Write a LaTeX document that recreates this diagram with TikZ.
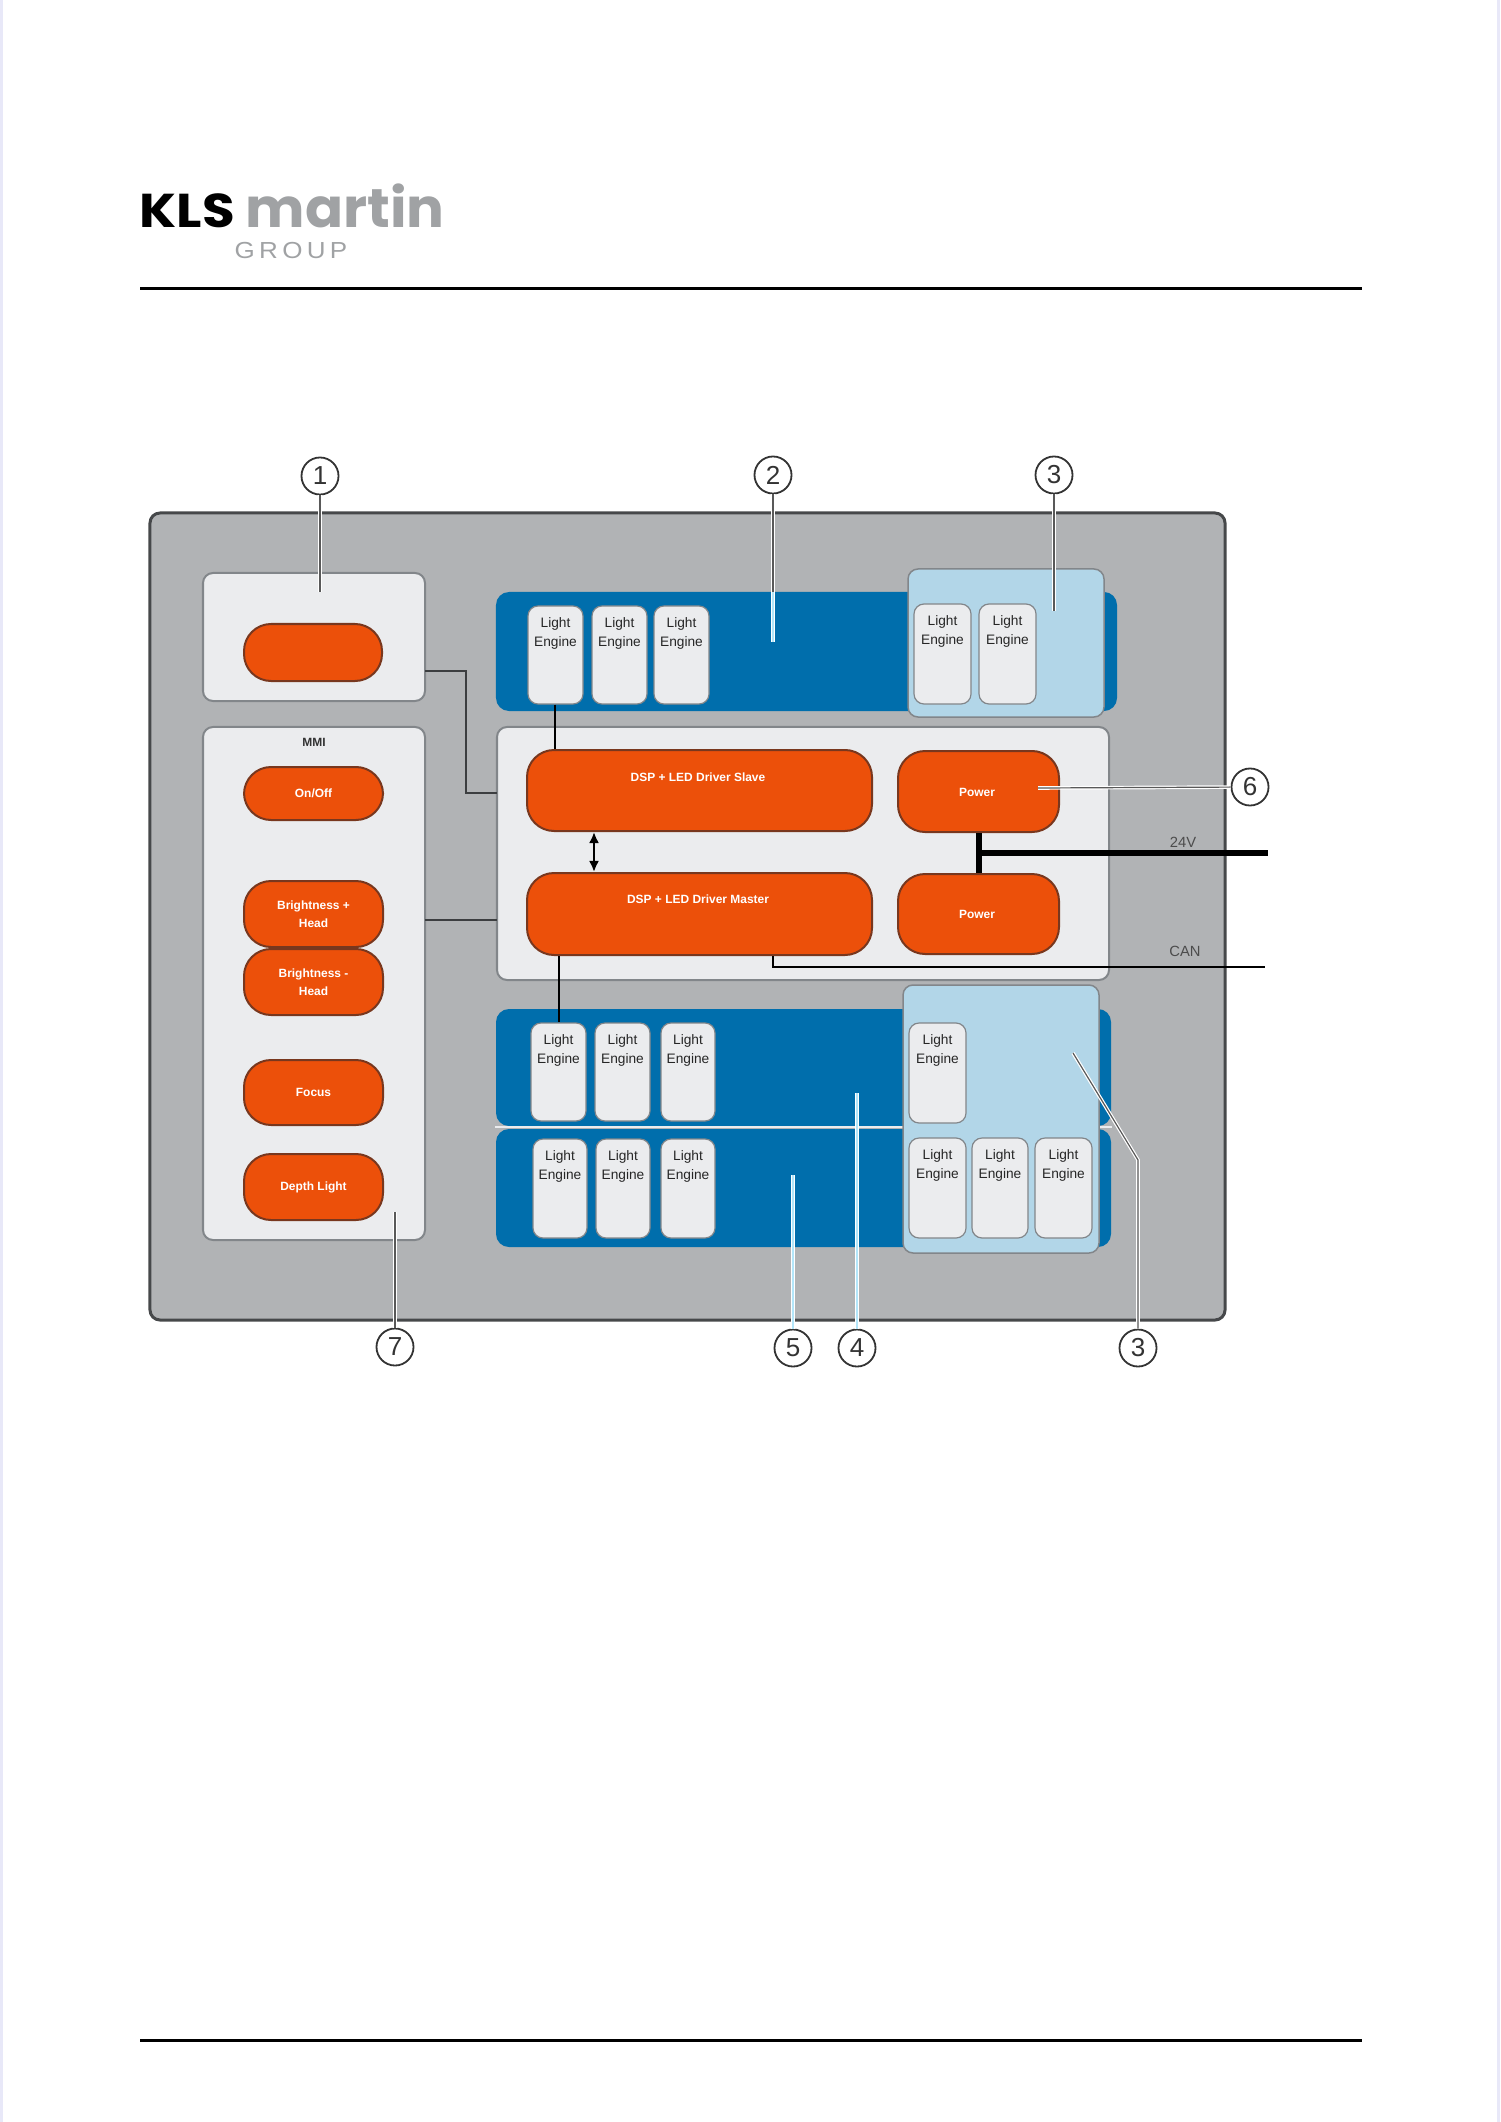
\documentclass[tikz,border=0pt]{standalone}
\usepackage{fontspec}
\setmainfont{Liberation Sans}
\newfontfamily\logofont{Poppins}
\usetikzlibrary{arrows.meta,calc,positioning}
\definecolor{housing}{RGB}{177,179,181}
\definecolor{housingedge}{RGB}{70,72,74}
\definecolor{panelwhite}{RGB}{235,236,238}
\definecolor{paneledge}{RGB}{130,134,138}
\definecolor{bandblue}{RGB}{0,110,172}
\definecolor{lightblue}{RGB}{178,214,232}
\definecolor{pillorange}{RGB}{236,80,10}
\definecolor{pilledge}{RGB}{120,55,30}
\definecolor{logogray}{RGB}{160,162,164}
\definecolor{wirecolor}{RGB}{60,62,64}
\definecolor{pagestrip}{RGB}{232,232,248}
\tikzset{
  housingbox/.style={draw=housingedge,line width=0.03cm,fill=housing,rounded corners=0.1cm},
  panelbox/.style={draw=paneledge,line width=0.02cm,fill=panelwhite,rounded corners=0.1cm},
  bandbox/.style={fill=bandblue,rounded corners=0.13cm},
  groupbox/.style={draw=paneledge,line width=0.015cm,fill=lightblue,rounded corners=0.1cm},
  enginebox/.style={draw=paneledge,line width=0.012cm,fill=panelwhite,rounded corners=0.1cm},
  pillbox/.style={draw=pilledge,line width=0.02cm,fill=pillorange,rounded corners=0.27cm,font=\fontsize{3.4pt}{5pt}\selectfont\bfseries,align=center,text=white},
  enginetext/.style={font=\fontsize{3.9pt}{5.3pt}\selectfont,align=center,text=black!85,anchor=north,inner sep=0pt},
  pilltext/.style={font=\fontsize{3.4pt}{5pt}\selectfont\bfseries,align=center,text=white,inner sep=0pt},
  wirelabel/.style={font=\fontsize{4.2pt}{5pt}\selectfont,text=black!70,inner sep=0pt},
  thinwire/.style={draw=wirecolor,line width=0.02cm},
  busline/.style={draw=black,line width=0.025cm},
  powerline/.style={draw=black,line width=0.055cm},
  callnum/.style={circle,draw=black!80,line width=0.018cm,fill=white,minimum size=0.37cm,inner sep=0pt,font=\fontsize{7.4pt}{8pt}\selectfont,text=black!80},
  calloutline/.style={draw=white,double=black!65,line width=0.012cm,double distance=0.012cm},
  calloutblue/.style={draw=white,double=cyan!30,line width=0.012cm,double distance=0.012cm},
  rulerline/.style={draw=black,line width=0.03cm}
}
\newcommand{\blockat}[7]{%
  \pgfmathsetmacro{\bW}{(#4-#2)*0.01}%
  \pgfmathsetmacro{\bH}{(#5-#3)*0.01}%
  \node[#1,minimum width=\bW cm,minimum height=\bH cm,inner sep=0pt] (#6) at ({(#2+#4)/2},{(#3+#5)/2}) {#7};%
}
\newcommand{\engineat}[5]{%
  \blockat{enginebox}{#2}{#3}{#4}{#5}{#1}{}%
  \node[enginetext,yshift=-0.115cm] (#1text) at (#1.north) {Light\\Engine};%
}
\begin{document}
\begin{tikzpicture}[x=0.01cm,y=-0.01cm]
  \useasboundingbox (0,0) rectangle (1500,2122);
  \fill[pagestrip] (0,0) rectangle (3,2122);
  \fill[pagestrip] (1497,0) rectangle (1500,2122);
  \node[font=\logofont\bfseries\fontsize{13.5pt}{14pt}\selectfont,anchor=base west,inner sep=0pt] (logokls) at (139,228) {\scalebox{1.12}[1]{KLS}};
  \node[font=\logofont\bfseries\fontsize{15.5pt}{16pt}\selectfont,text=logogray,anchor=base west,inner sep=0pt] (logomartin) at (245,228) {\scalebox{1.03}[1]{martin}};
  \node[font=\fontsize{6.6pt}{7pt}\selectfont,text=logogray,anchor=base,inner sep=0pt] (logogroup) at (291,259) {\scalebox{1.12}[1]{G\,R\,O\,U\,P}};
  \coordinate (ruletopl) at (140,289);
  \coordinate (ruletopr) at (1362,289);
  \coordinate (rulebotl) at (140,2040);
  \coordinate (rulebotr) at (1362,2040);
  \draw[rulerline] (ruletopl) -- (ruletopr);
  \draw[rulerline] (rulebotl) -- (rulebotr);
  \blockat{housingbox}{150}{513}{1225}{1320}{housing}{}
  \blockat{panelbox}{203}{573}{425}{701}{keypanel}{}
  \blockat{panelbox}{203}{727}{425}{1240}{mmipanel}{}
  \blockat{panelbox}{497}{727}{1109}{980}{driverpanel}{}
  \node[enginetext,text=black!80,anchor=center,font=\fontsize{3.4pt}{4pt}\selectfont\bfseries] (mmitext) at (314,742) {MMI};
  \blockat{pillbox}{244}{624}{382}{681}{keypill}{}
  \blockat{pillbox}{244}{767}{383}{820}{onoff}{On/Off}
  \blockat{pillbox}{244}{881}{383}{947}{brightup}{Brightness +\\Head}
  \blockat{pillbox}{244}{949}{383}{1015}{brightdown}{Brightness -\\Head}
  \blockat{pillbox}{244}{1060}{383}{1125}{focus}{Focus}
  \blockat{pillbox}{244}{1154}{383}{1220}{depth}{Depth Light}
  \blockat{pillbox}{527}{750}{872}{831}{dspslave}{}
  \blockat{pillbox}{527}{873}{872}{955}{dspmaster}{}
  \blockat{pillbox}{898}{751}{1059}{832}{powertop}{}
  \blockat{pillbox}{898}{874}{1059}{954}{powerbot}{}
  \node[pilltext] (dspslavetext) at (698,777) {DSP + LED Driver Slave};
  \node[pilltext] (dspmastertext) at (698,899) {DSP + LED Driver Master};
  \node[pilltext] (powertoptext) at (977,792) {Power};
  \node[pilltext] (powerbottext) at (977,914) {Power};
  \blockat{bandbox}{496}{592}{1117}{711}{topband}{}
  \blockat{bandbox}{496}{1009}{1111}{1126}{midband}{}
  \blockat{bandbox}{496}{1129}{1111}{1247}{lowband}{}
  \draw[panelwhite,line width=0.02cm] (midband.south west) -- (midband.south east);
  \blockat{groupbox}{908}{569}{1104}{717}{topgroup}{}
  \blockat{groupbox}{903}{985}{1099}{1253}{lowgroup}{}
  \engineat{topa}{528}{606}{583}{704}
  \engineat{topb}{592}{606}{647}{704}
  \engineat{topc}{654}{606}{709}{704}
  \engineat{topd}{914}{604}{971}{704}
  \engineat{tope}{979}{604}{1036}{704}
  \engineat{mida}{531}{1023}{586}{1121}
  \engineat{midb}{595}{1023}{650}{1121}
  \engineat{midc}{661}{1023}{715}{1121}
  \engineat{midd}{909}{1023}{966}{1123}
  \engineat{lowa}{533}{1139}{587}{1238}
  \engineat{lowb}{596}{1139}{650}{1238}
  \engineat{lowc}{661}{1139}{715}{1238}
  \engineat{lowd}{909}{1138}{966}{1238}
  \engineat{lowe}{972}{1138}{1028}{1238}
  \engineat{lowf}{1035}{1138}{1092}{1238}
  \coordinate (keyout) at (425,671);
  \coordinate (keyin) at (497,793);
  \coordinate (mmiout) at (425,920);
  \coordinate (mmiin) at (497,920);
  \draw[thinwire] (keyout) -| (466,793) -- (keyin);
  \draw[thinwire] (mmiout) -- (mmiin);
  \draw[busline] (topa.south -| 555,0) -- (dspslave.north -| 555,0);
  \draw[busline] (dspmaster.south -| 559,0) -- (mida.north -| 559,0);
  \draw[busline,{Latex[length=0.11cm,width=0.1cm]}-{Latex[length=0.11cm,width=0.1cm]}] (dspslave.south -| 594,0) -- (dspmaster.north -| 594,0);
  \coordinate (v24end) at (1268,853);
  \coordinate (canend) at (1265,967);
  \draw[powerline] (powertop.south -| 979,0) -- (powerbot.north -| 979,0);
  \draw[powerline] (979,853) -- (v24end);
  \draw[busline] (dspmaster.south -| 773,0) |- (canend);
  \node[wirelabel] (v24label) at (1183,842) {24V};
  \node[wirelabel] (canlabel) at (1185,951) {CAN};
  \foreach \n/\t/\x/\y in {one/1/320/476,two/2/773/475,threetop/3/1054/475,six/6/1250/787,seven/7/395/1347,five/5/793/1348,four/4/857/1348,threelow/3/1138/1348}
    {\node[callnum] (num\n) at (\x,\y) {\t};}
  \coordinate (endone) at (320,592);
  \coordinate (endtwob) at (773,592);
  \coordinate (endtwo) at (773,642);
  \coordinate (endthreetop) at (1054,611);
  \coordinate (endsix) at (1038,788);
  \coordinate (endseven) at (395,1212);
  \coordinate (endfour) at (857,1093);
  \coordinate (endfive) at (793,1175);
  \coordinate (bendthree) at (1138,1160);
  \coordinate (endthree) at (1073,1053);
  \draw[calloutline] (numone) -- (endone);
  \draw[calloutline] (numtwo) -- (endtwob);
  \draw[calloutblue] (endtwob) -- (endtwo);
  \draw[calloutline] (numthreetop) -- (endthreetop);
  \draw[calloutline] (numsix) -- (endsix);
  \draw[calloutline] (numseven) -- (endseven);
  \draw[calloutblue] (numfour) -- (endfour);
  \draw[calloutblue] (numfive) -- (endfive);
  \draw[calloutline] (numthreelow) -- (bendthree) -- (endthree);
\end{tikzpicture}
\end{document}
